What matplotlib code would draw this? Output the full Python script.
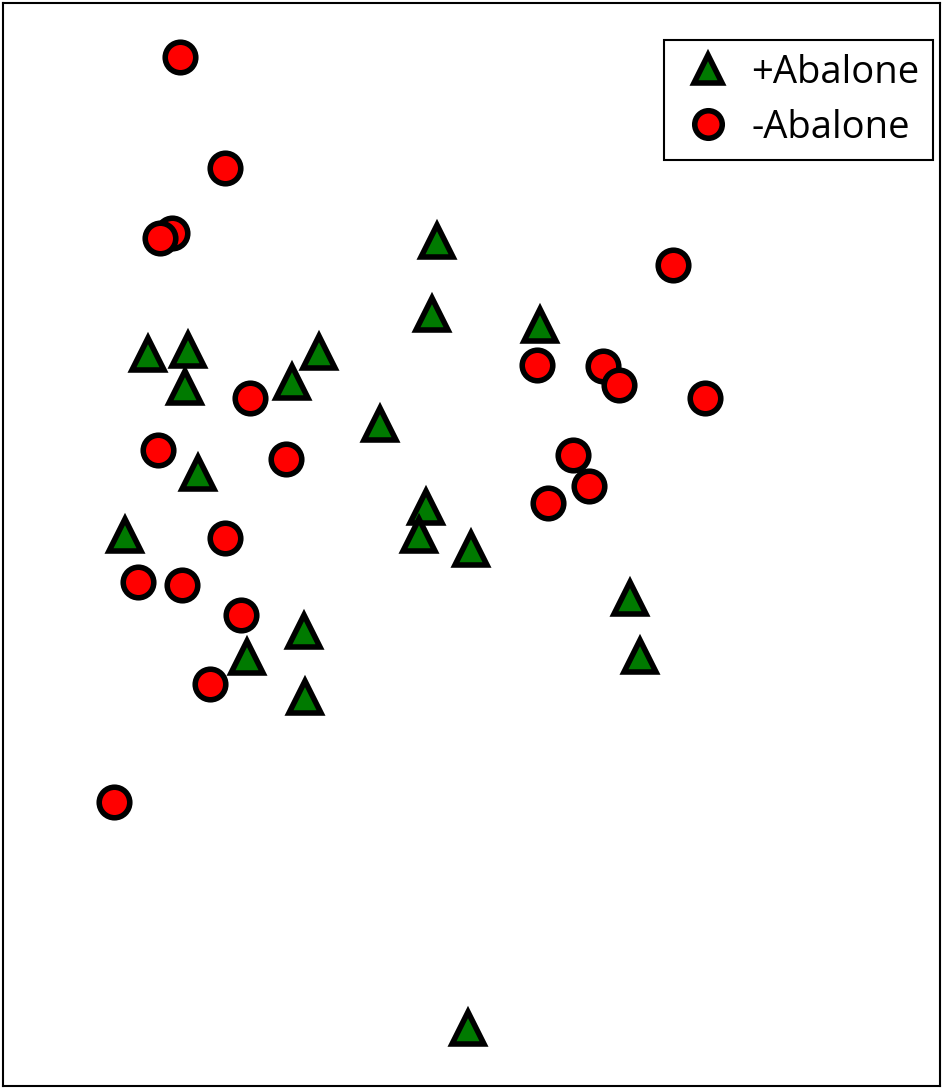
import matplotlib
matplotlib.use('Agg')
import matplotlib.pyplot as plt

# ordination coordinates (pixel-like units, y downward)
plus_x = [437, 432, 540, 148, 188, 319, 185, 292, 380, 198, 426, 419, 471, 125, 630, 640, 304, 247, 305, 468]
plus_y = [241, 314, 325, 354, 350, 352, 387, 382, 424, 473, 507, 535, 549, 535, 598, 656, 631, 657, 697, 1028]

minus_x = [180, 225, 172, 160, 673, 537, 603, 619, 250, 705, 158, 286, 573, 589, 548, 225, 138, 182, 241, 210, 114]
minus_y = [57, 168, 233, 238, 265, 365, 366, 385, 398, 398, 450, 459, 455, 486, 503, 538, 582, 585, 615, 684, 802]

labels = ['+Abalone', '-Abalone']

plt.rcParams['font.family'] = ['Open Sans', 'DejaVu Sans']

fig = plt.figure(figsize=(9.42, 10.88), dpi=100)
ax = fig.add_axes([0.003, 0.002, 0.995, 0.995])

ax.plot(plus_x, plus_y, linestyle='none', marker='^', markersize=23,
        markerfacecolor='#007a00', markeredgecolor='black', markeredgewidth=4,
        label=labels[0])
ax.plot(minus_x, minus_y, linestyle='none', marker='o', markersize=22,
        markerfacecolor='#ff0000', markeredgecolor='black', markeredgewidth=4,
        label=labels[1])

ax.set_xlim(3, 940)
ax.set_ylim(1086, 3)
ax.set_xticks([])
ax.set_yticks([])
for s in ax.spines.values():
    s.set_linewidth(1.5)

leg = ax.legend(loc='upper right', bbox_to_anchor=(0.9925, 0.9658), borderaxespad=0,
                fontsize=27.5, frameon=True, fancybox=False, edgecolor='black',
                framealpha=1, borderpad=0.35, handletextpad=0.35, labelspacing=0.45,
                handlelength=1.6, markerscale=0.9)
leg.get_frame().set_linewidth(1.5)

plt.savefig('out.png', dpi=100)
